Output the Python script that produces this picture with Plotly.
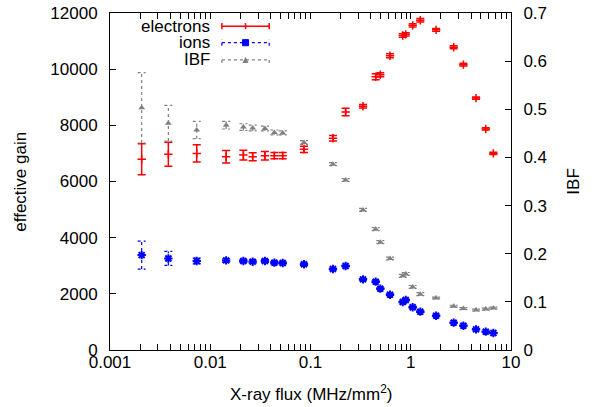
"""Effective gain and IBF vs X-ray flux."""

import plotly.graph_objects as go

# X-ray flux (MHz/mm^2)
flux = [0.00207, 0.00382, 0.00733, 0.0144, 0.0214, 0.0265, 0.0351, 0.0436, 0.0528, 0.0861,
        0.1675, 0.224, 0.334, 0.447, 0.497, 0.621, 0.832, 0.891, 1.045, 1.245,
        1.79, 2.68, 3.35, 4.48, 5.6, 6.67]

electrons = [6790, 6970, 7000, 6880, 6940, 6880, 6920, 6920, 6920, 7145,
             7540, 8475, 8680, 9730, 9800, 10480, 11200, 11240, 11560, 11740,
             11400, 10780, 10160, 8970, 7870, 7000]
electrons_err = [550, 430, 310, 220, 170, 140, 150, 110, 110, 110,
                 100, 130, 60, 110, 70, 70, 60, 60, 60, 60,
                 50, 50, 50, 40, 40, 40]

ions = [3380, 3260, 3170, 3190, 3170, 3145, 3170, 3110, 3100, 3055,
        2884, 2990, 2516, 2433, 2184, 1970, 1710, 1780, 1520, 1365,
        1222, 973, 866, 736, 653, 605]
ions_err = [500, 250, 100, 60, 50, 50, 50, 40, 40, 40,
            30, 30, 30, 30, 30, 30, 30, 30, 30, 30,
            20, 20, 20, 20, 20, 20]

ibf = [0.503, 0.471, 0.457, 0.467, 0.463, 0.461, 0.460, 0.452, 0.451, 0.431,
       0.386, 0.353, 0.291, 0.251, 0.224, 0.190, 0.154, 0.158, 0.131, 0.116,
       0.108, 0.091, 0.086, 0.083, 0.085, 0.087]
ibf_err = [0.073, 0.037, 0.018, 0.008, 0.007, 0.006, 0.005, 0.005, 0.004, 0.004,
           0.003, 0.003, 0.003, 0.003, 0.003, 0.003, 0.003, 0.003, 0.003, 0.003,
           0.002, 0.002, 0.002, 0.002, 0.002, 0.002]

x_tickvals = [0.001, 0.01, 0.1, 1, 10]
x_ticktext = ["0.001", "0.01", "0.1", "1", "10"]

FONT = "Liberation Sans, Arial, sans-serif"
FS = 17
CAP = 1.096  # cap half-width as a factor on the log axis


def dotted_bars(x, y, err):
    """Vertical bars + caps as one broken line, so they can be dotted."""
    xs, ys = [], []
    for xi, yi, e in zip(x, y, err):
        lo, hi = yi - e, yi + e
        xs += [xi, xi, None, xi / CAP, xi * CAP, None, xi / CAP, xi * CAP, None]
        ys += [lo, hi, None, lo, lo, None, hi, hi, None]
    return xs, ys


fig = go.Figure()

# electrons (left axis), solid error bars
fig.add_trace(go.Scatter(
    x=flux, y=electrons, mode="markers", name="electrons",
    marker=dict(symbol="cross-thin-open", size=6, color="#ff0000",
                line=dict(color="#ff0000", width=1.5)),
    error_y=dict(type="data", array=electrons_err, color="#ff0000",
                 thickness=1.5, width=4),
    showlegend=False,
))

# ions (left axis), dotted bars
bx, by = dotted_bars(flux, ions, ions_err)
fig.add_trace(go.Scatter(x=bx, y=by, mode="lines", showlegend=False,
                         line=dict(color="#0000ff", width=1.2, dash="dot"),
                         hoverinfo="skip"))
fig.add_trace(go.Scatter(
    x=flux, y=ions, mode="markers", name="ions",
    marker=dict(symbol="asterisk-open", size=7, color="#0000ff",
                line=dict(color="#0000ff", width=2)),
    showlegend=False,
))

# IBF (right axis), dotted bars
bx, by = dotted_bars(flux, ibf, ibf_err)
fig.add_trace(go.Scatter(x=bx, y=by, mode="lines", yaxis="y2", showlegend=False,
                         line=dict(color="#808080", width=1.2, dash="dot"),
                         hoverinfo="skip"))
fig.add_trace(go.Scatter(
    x=flux, y=ibf, mode="markers", name="IBF", yaxis="y2",
    marker=dict(symbol="triangle-up", size=6, color="#808080"),
    showlegend=False,
))

axis_common = dict(showline=True, linecolor="black", linewidth=1, ticks="inside",
                   tickcolor="black", ticklen=6, showgrid=False, zeroline=False,
                   automargin=False,
                   tickfont=dict(family=FONT, size=FS, color="black"))

fig.update_layout(
    width=596, height=407,
    margin=dict(l=110, r=85, t=13, b=57),
    paper_bgcolor="white", plot_bgcolor="white",
    font=dict(family=FONT, size=FS, color="black"),
    xaxis=dict(type="log", range=[-3, 1], tickvals=x_tickvals, ticktext=x_ticktext,
               mirror="allticks", ticklabelstandoff=-3,
               minor=dict(ticks="inside", ticklen=3, tickcolor="black", dtick="D1"),
               **axis_common),
    yaxis=dict(range=[0, 12000], dtick=2000, tickformat="d", mirror=True,
               ticklabelstandoff=8, **axis_common),
    yaxis2=dict(range=[0, 0.7], dtick=0.1, overlaying="y", side="right",
                tickformat="~g", ticklabelstandoff=8, **axis_common),
)

# axis titles
fig.add_annotation(text="effective gain", xref="paper", yref="paper", x=-0.224, y=0.5,
                   xanchor="center", yanchor="middle",
                   textangle=-90, showarrow=False, font=dict(size=FS))
fig.add_annotation(text="IBF", xref="paper", yref="paper", x=1.155, y=0.5,
                   xanchor="center", yanchor="middle",
                   textangle=-90, showarrow=False, font=dict(size=FS))
fig.add_annotation(text="X-ray flux (MHz/mm<sup>2</sup>)", xref="paper", yref="paper",
                   x=0.5, y=-0.128, xanchor="center", yanchor="middle",
                   showarrow=False, font=dict(size=FS))

# hand-drawn key, gnuplot style
key = [("electrons", "#ff0000", "solid", 0.961),
       ("ions", "#0000ff", "dot", 0.912),
       ("IBF", "#808080", "dot", 0.861)]
x0, x1, xm = 0.279, 0.397, 0.338
dx, dy = 0.0075, 0.009
for label, color, dash, ky in key:
    fig.add_annotation(text=label, xref="paper", yref="paper", x=0.2536, y=ky,
                       xanchor="right", yanchor="middle", showarrow=False,
                       font=dict(size=FS))
    lw = 1.5 if dash == "solid" else 1.2
    fig.add_shape(type="line", xref="paper", yref="paper", x0=x0, x1=x1, y0=ky, y1=ky,
                  line=dict(color=color, width=lw, dash=dash))
    for xc in (x0, x1):
        fig.add_shape(type="line", xref="paper", yref="paper", x0=xc, x1=xc,
                      y0=ky - dy, y1=ky + dy, line=dict(color=color, width=lw, dash=dash))
    if label == "electrons":
        fig.add_shape(type="line", xref="paper", yref="paper", x0=xm, x1=xm,
                      y0=ky - dy, y1=ky + dy, line=dict(color=color, width=1.5))
    elif label == "ions":
        fig.add_shape(type="rect", xref="paper", yref="paper", x0=xm - dx, x1=xm + dx,
                      y0=ky - dy, y1=ky + dy, fillcolor=color,
                      line=dict(color=color, width=1))
    else:
        fig.add_shape(type="path", xref="paper", yref="paper",
                      path=f"M {xm - dx},{ky - dy} L {xm + dx},{ky - dy} L {xm},{ky + dy} Z",
                      fillcolor=color, line=dict(color=color, width=0))

# drop the default 8px page margin so the chart sits at the window origin
fig.write_html("out.html", config={"displayModeBar": False},
               post_script="document.body.style.margin = '0';")
